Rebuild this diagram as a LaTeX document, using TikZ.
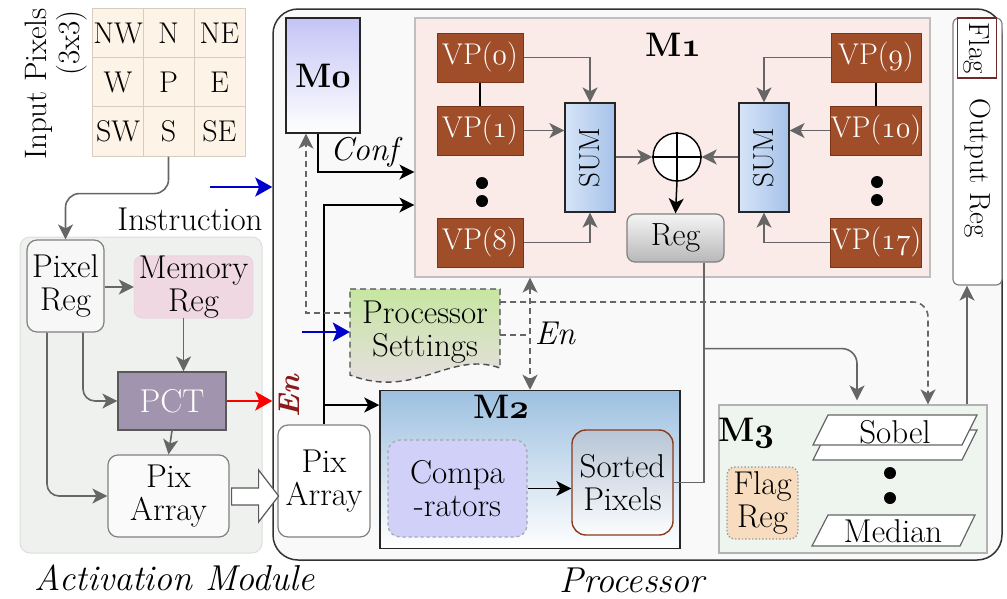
\RequirePackage{fix-cm}
\documentclass[tikz,border=0pt]{standalone}
\usetikzlibrary{arrows.meta,calc}
\definecolor{cellfill}{HTML}{FDF3E6}
\definecolor{cellline}{HTML}{D6CCC0}
\definecolor{actfill}{HTML}{EFF1EE}
\definecolor{actline}{HTML}{DCDEDC}
\definecolor{memfill}{HTML}{EFD8E1}
\definecolor{memline}{HTML}{E2CAD4}
\definecolor{pctfill}{HTML}{A194AF}
\definecolor{procfill}{HTML}{F9F9F9}
\definecolor{mafill}{HTML}{FAEAE8}
\definecolor{vpfill}{HTML}{A04E29}
\definecolor{vpline}{HTML}{7B3516}
\definecolor{sumleft}{HTML}{D6E4F7}
\definecolor{sumright}{HTML}{A6C2EA}
\definecolor{arrowgray}{HTML}{666666}
\definecolor{boxgray}{HTML}{808080}
\definecolor{mzerotop}{HTML}{C4C4F6}
\definecolor{mtwotop}{HTML}{9DC0E0}
\definecolor{compfill}{HTML}{D0D0F8}
\definecolor{sortline}{HTML}{8B3A1A}
\definecolor{sorttop}{HTML}{B7C5D5}
\definecolor{psgreen}{HTML}{C6E6A0}
\definecolor{pspink}{HTML}{EBDDEB}
\definecolor{mthreefill}{HTML}{EEF5EF}
\definecolor{flagfill}{HTML}{F8DCC0}
\definecolor{enred}{HTML}{8B1A1A}
\definecolor{flagline}{HTML}{6B2B2B}
\definecolor{instrblue}{HTML}{0000CC}
% old-style figures, regular and bold
\newcommand\osn[1]{{\usefont{OML}{cmm}{m}{it}#1}}
\newcommand\osb[1]{{\usefont{OML}{cmm}{b}{it}#1}}
\newcommand\fsz[1]{\fontsize{#1}{#1}\selectfont}
\tikzset{
  cell/.style={draw=cellline, fill=cellfill, line width=0.8pt, minimum width=51pt, minimum height=49.3pt, inner sep=0pt, font=\fsz{30}},
  vp/.style={draw=vpline, fill=vpfill, text=white, line width=1pt, minimum height=49pt, inner sep=0pt, font=\fsz{30}},
  sumbox/.style={draw=black!85, line width=1.2pt, left color=sumleft, right color=sumright, minimum width=50pt, minimum height=109pt},
  mlabel/.style={font=\fsz{34}\bfseries},
  dotmark/.style={circle, fill=black, minimum size=12pt, inner sep=0pt},
  garrow/.style={draw=arrowgray, line width=1.6pt, -{Stealth[length=15pt,width=15pt,inset=4pt]}},
  barrow/.style={draw=black, line width=1.5pt, -{Stealth[length=15pt,width=15pt,inset=4pt]}},
  dgarrow/.style={garrow, dash pattern=on 6pt off 4pt},
  fatarrow/.style={line width=2.2pt, -{Stealth[length=17pt,width=19pt,inset=4pt]}},
  rbox/.style={draw=boxgray, line width=1.2pt, rounded corners=10pt, align=center, inner sep=0pt},
  slab/.style={draw=arrowgray, fill=white, line width=1.2pt},
  caption/.style={font=\fsz{36}\itshape},
}
\begin{document}
\begin{tikzpicture}[x=1pt, y=-1pt, font=\fontsize{33}{33}\selectfont]
\useasboundingbox (0,0) rectangle (1007,598);

% ---------- input window ----------
\foreach \t/\nm/\cx/\cy in {NW/nw/118/33, N/n/168.5/33, NE/ne/219.5/33,
                             W/w/118/82.5, P/p/168.5/82.5, E/e/219.5/82.5,
                             SW/sw/118/131.5, S/s/168.5/131.5, SE/se/219.5/131.5}
  \node[cell] (\nm) at (\cx,\cy) {\t};
\node[rotate=90, font=\fsz{31}] (inlab) at (39,84) {Input Pixels};
\node[rotate=90, font=\fsz{31}] (inlabb) at (72,43) {(3x3)};

% ---------- activation module ----------
\node[draw=actline, fill=actfill, line width=1pt, rounded corners=10pt, minimum width=242pt, minimum height=316pt] (actmod) at (141,395) {};
\node[rbox, fill=black!3, minimum width=77pt, minimum height=92pt] (pixreg) at (65.5,286) {Pixel\\Reg};
\node[draw=memline, fill=memfill, rounded corners=8pt, align=center, inner sep=0pt, minimum width=119pt, minimum height=58pt] (memreg) at (193.5,287) {Memory\\Reg};
\node[draw=black!65, fill=pctfill, line width=1.2pt, text=white, minimum width=108pt, minimum height=58pt] (pct) at (172,401) {PCT};
\node[rbox, fill=black!2, minimum width=121pt, minimum height=82pt] (pixa) at (168.5,496) {Pix\\Array};

\draw[garrow, rounded corners=14pt] (s.south) -- ++(0,37) -| (pixreg.north);
\draw[garrow] (pixreg.east |- memreg.west) -- (memreg.west);
\draw[garrow] ([xshift=-10pt]memreg.south) -- ([xshift=-10pt]memreg.south |- pct.north);
\draw[garrow, rounded corners=12pt] ([xshift=17.5pt]pixreg.south) |- (pct.west);
\draw[garrow, rounded corners=12pt] ([xshift=-18.5pt]pixreg.south) |- (pixa.west);
\draw[garrow] (pct.south) -- (pixa.north);

\node[caption] (actlab) at (175,578) {Activation Module};

% ---------- processor ----------
\node[draw=black!80, fill=procfill, line width=1.5pt, rounded corners=25pt, minimum width=729pt, minimum height=551pt] (proc) at (637.5,284.5) {};
\node[caption] (proclab) at (632,580) {Processor};

\coordinate (instr) at (210,187);
\draw[fatarrow, instrblue] (instr) -- (instr -| proc.west);
\node (instrlab) at (190,219) {Instruction};

\draw[fatarrow, red] (pct.east) -- (pct.east -| proc.west);
\node[rotate=90, text=enred, font=\fsz{30}\bfseries\itshape] (enact) at (289,396) {En};

% hollow transfer arrow between the two pixel arrays
\node[rbox, fill=white, minimum width=92pt, minimum height=112pt] (ppix) at (324,481) {Pix\\Array};
\draw[slab, draw=black!65, shift={(pixa.east)}] (2,-8) -- (29,-8) -- (29,-26) -- (49,0) -- (29,26) -- (29,9) -- (2,9) -- cycle;

% M0
\node[draw=black!85, line width=1.2pt, top color=mzerotop, bottom color=white, minimum width=74pt, minimum height=115pt, mlabel] (mzero) at (323,75.5) {M\osb{0}};

% M1
\node[draw=black!25, fill=mafill, line width=1.2pt, minimum width=515pt, minimum height=259pt] (mone) at (672.5,147.5) {};
\node[mlabel] (monelab) at (673,45) {M\osb{1}};

\node[vp, minimum width=86pt] (vpa) at (480,57.5) {VP(\osn{0})};
\node[vp, minimum width=86pt] (vpb) at (480,130.5) {VP(\osn{1})};
\node[vp, minimum width=86pt] (vpc) at (480,242.5) {VP(\osn{8})};
\node[vp, minimum width=90pt] (vpd) at (876,57.5) {VP(\osn{9})};
\node[vp, minimum width=90pt] (vpe) at (876,130.5) {VP(\osn{10})};
\node[vp, minimum width=90pt] (vpf) at (876,242.5) {VP(\osn{17})};
\node[dotmark] (dla) at (482,183) {};
\node[dotmark] (dlb) at (482,201) {};
\node[dotmark] (dra) at (877,182) {};
\node[dotmark] (drb) at (877,200) {};

\node[sumbox] (suma) at (590,157.5) {};
\node[rotate=90, font=\fsz{29}] at (suma) {SUM};
\node[sumbox] (sumb) at (764,157.5) {};
\node[rotate=90, font=\fsz{29}] at (sumb) {SUM};

\node[circle, draw, fill=white, line width=1.4pt, minimum size=48pt, inner sep=0pt] (plus) at (677,157) {};
\draw[line width=1.4pt] (plus.north) -- (plus.south) (plus.west) -- (plus.east);
\node[draw=boxgray, line width=1.2pt, rounded corners=8pt, top color=black!4, bottom color=black!28, minimum width=97pt, minimum height=48pt, font=\fsz{32}] (reg) at (675.5,238) {Reg};

\draw[line width=1.4pt] (vpa.south) -- (vpb.north);
\draw[line width=1.4pt] (vpd.south) -- (vpe.north);
\draw[garrow] (vpa.east) -| (suma.north);
\draw[garrow] (vpb.east) -- (vpb.east -| suma.west);
\draw[garrow] (vpc.east) -| (suma.south);
\draw[garrow] (vpd.west) -| (sumb.north);
\draw[garrow] (vpe.west) -- (vpe.west -| sumb.east);
\draw[garrow] (vpf.west) -| (sumb.south);
\draw[garrow] (suma.east |- plus.west) -- (plus.west);
\draw[garrow] (sumb.west |- plus.east) -- (plus.east);
\draw[barrow] (plus.south) -- (reg.north);

% Output register
\node[draw=boxgray, fill=white, line width=1.2pt, rounded corners=6pt, minimum width=49pt, minimum height=267pt] (outreg) at (977.5,151.5) {};
\node[rotate=-90, font=\fsz{29}] (outlab) at (978,168) {Output Reg};
\node[draw=flagline, fill=white, line width=1.4pt, minimum width=39pt, minimum height=60pt, inner sep=0pt] (flag) at (977,48) {};
\node[rotate=-90, font=\fsz{29}] at (flag) {Flag};

% M2
\node[draw=black!85, line width=1.5pt, top color=mtwotop, bottom color=white, minimum width=300pt, minimum height=158pt] (mtwo) at (530,469.5) {};
\node[mlabel] (mtwolab) at (501,407) {M\osb{2}};
\node[draw=black!35, dashed, fill=compfill, line width=1.2pt, rounded corners=12pt, align=center, inner sep=0pt, minimum width=139pt, minimum height=97pt] (comp) at (457.5,488.5) {Compa\\-rators};
\node[draw=sortline, line width=1.4pt, rounded corners=14pt, top color=sorttop, bottom color=white!95!sorttop, align=center, inner sep=0pt, minimum width=101pt, minimum height=105pt] (sorted) at (622.5,482.5) {Sorted\\Pixels};
\draw[barrow] (comp.east) -- (comp.east -| sorted.west);

% processor settings
\shade[top color=psgreen, bottom color=pspink] (350,289) -- (500,289) -- (500,368) .. controls (450,350) and (415,400) .. (350,375) -- cycle;
\draw[black!70, line width=1.4pt, dash pattern=on 6pt off 4pt] (350,289) -- (500,289) -- (500,368) .. controls (450,350) and (415,400) .. (350,375) -- cycle;
\node[align=center, minimum width=150pt, minimum height=86pt, inner sep=0pt] (ps) at (425,332) {Processor\\Settings};

% M3
\node[draw=black!30, fill=mthreefill, line width=1.2pt, minimum width=268pt, minimum height=148pt] (mthree) at (853,479) {};
\node[mlabel] (mthreelab) at (746,433) {M\osb{3}};
\node[draw=black!40, dotted, fill=flagfill, line width=1.4pt, rounded corners=8pt, align=center, inner sep=0pt, minimum width=71pt, minimum height=72pt] (flagreg) at (762.5,503) {Flag\\Reg};
\draw[slab] (813,460) -- (828,430) -- (977,430) -- (962,460) -- cycle;
\draw[slab] (813,445) -- (828,415) -- (977,415) -- (962,445) -- cycle;
\node (sobel) at (895,432) {Sobel};
\node[dotmark] (dma) at (890,473) {};
\node[dotmark] (dmb) at (890,498) {};
\draw[slab] (812,546) -- (828,515) -- (975,515) -- (960,546) -- cycle;
\node (median) at (893,531) {Median};

% processor wiring
\draw[barrow] ([xshift=-5pt]mzero.south) |- ([yshift=-24.5pt]mone.west);
\node[font=\fsz{33}\itshape] (conflab) at (364,152) {Conf};
\draw[barrow] (ppix.north) |- ([yshift=-57.5pt]mone.west);
\coordinate (mtwoin) at ([yshift=64.5pt]mtwo.west);
\draw[barrow] (mtwoin -| ppix.north) -- (mtwoin);

\coordinate (psl) at ([yshift=19pt]ps.west);
\draw[dgarrow] (psl) -| ([xshift=-17pt]mzero.south);
\coordinate (bluein) at (302,332);
\draw[fatarrow, instrblue] (bluein) -- (ps.west);

\coordinate (pstop) at ([yshift=30pt]ps.east);
\draw[dgarrow, rounded corners=15pt] (pstop) -| ([xshift=75pt]mthree.north);
\draw[dgarrow, {Stealth[length=15pt,width=15pt,inset=4pt]}-{Stealth[length=15pt,width=15pt,inset=4pt]}] (mtwo.north |- mone.south) -- (mtwo.north);
\coordinate (psen) at ([yshift=-3pt]ps.east);
\draw[arrowgray, line width=1.6pt, dash pattern=on 6pt off 4pt] (psen) -- (psen -| mtwo.north);
\node[font=\fsz{33}\itshape] (enlab) at (555,333) {En};

\coordinate (regout) at ([xshift=28.5pt]reg.south);
\draw[arrowgray, line width=1.6pt] (regout) -- (regout |- sorted.east) -- (sorted.east);
\coordinate (junc) at ([yshift=-86pt]regout);
\draw[garrow, rounded corners=15pt, shorten >=4pt] (junc) -| ([xshift=4pt]mthree.north);
\coordinate (outin) at ([xshift=-10.5pt]outreg.south);
\draw[garrow] (outin |- mthree.north) -- (outin);
\end{tikzpicture}
\end{document}
